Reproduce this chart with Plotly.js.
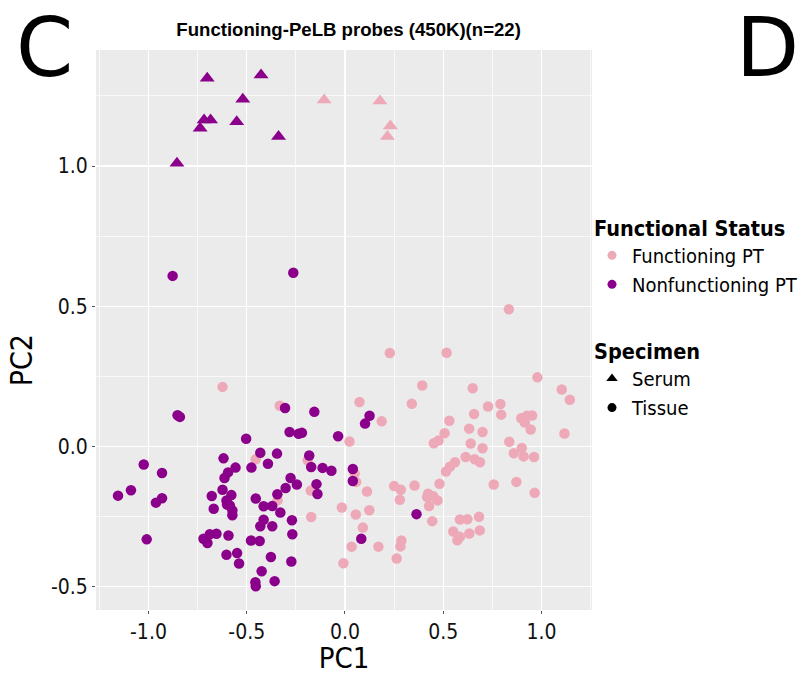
<!DOCTYPE html>
<html>
<head>
<meta charset="utf-8">
<script src="https://cdn.plot.ly/plotly-3.0.1.min.js"></script>
<style>html,body{margin:0;padding:0;background:#fff;}#chart{width:807px;height:675px;}</style>
</head>
<body>
<div id="chart"></div>
<script>
// ---- Data (PC1 / PC2 scores) ----
const nonfuncSerumPC1 = [-0.701, -0.427, -0.520, -0.717, -0.684, -0.737, -0.551, -0.338, -0.855];
const nonfuncSerumPC2 = [1.313, 1.325, 1.238, 1.164, 1.164, 1.135, 1.158, 1.105, 1.010];

const funcSerumPC1 = [-0.106, 0.178, 0.231, 0.216];
const funcSerumPC2 = [1.236, 1.232, 1.143, 1.105];

const nonfuncTissuePC1 = [-0.877, -0.263, -0.852, -0.840, -0.305, -0.156, 0.125, 0.102, -0.035, 0.040, 0.040, 0.364, 0.083,
  -0.503, -0.282, -0.236, -0.219, -1.024, -0.931, -1.155, -1.089, -0.962, -0.931, -1.009, -0.618, -0.557, -0.595, -0.613,
  -0.623, -0.578, -0.603, -0.586, -0.600, -0.573, -0.573, -0.678, -0.668, -0.431, -0.476, -0.392, -0.346, -0.182, -0.172,
  -0.114, -0.069, -0.277, -0.245, -0.302, -0.145, -0.140, -0.344, -0.454, -0.414, -0.370, -0.329, -0.414, -0.431, -0.370,
  -0.270, -0.268, -0.720, -0.688, -0.654, -0.700, -0.593, -0.478, -0.434, -0.603, -0.549, -0.539, -0.377, -0.273, -0.424,
  -0.456, -0.454, -0.358];
const nonfuncTissuePC2 = [0.608, 0.619, 0.111, 0.105, 0.137, 0.123, 0.109, 0.081, 0.036, -0.081, -0.124, -0.242, -0.330,
  0.027, 0.051, 0.045, 0.048, -0.065, -0.095, -0.176, -0.157, -0.201, -0.185, -0.332, -0.043, -0.076, -0.093, -0.113,
  -0.155, -0.174, -0.193, -0.211, -0.208, -0.229, -0.246, -0.177, -0.223, -0.023, -0.076, -0.062, -0.026, -0.033, -0.074,
  -0.077, -0.087, -0.113, -0.136, -0.149, -0.135, -0.170, -0.171, -0.186, -0.214, -0.213, -0.236, -0.262, -0.285, -0.285,
  -0.264, -0.314, -0.330, -0.314, -0.312, -0.345, -0.318, -0.336, -0.338, -0.387, -0.381, -0.418, -0.395, -0.411, -0.446,
  -0.485, -0.499, -0.481];

const funcTissuePC1 = [-0.623, -0.332, 0.834, 0.228, 0.517, 0.979, 0.393, 0.650, 1.103, 1.144, 0.074, 0.340, 0.728, 0.791,
  0.187, 0.657, 0.795, 0.897, 0.926, 0.952, 0.531, 0.915, 0.632, 0.700, 0.507, 1.117, 0.945, 0.023, 0.452, 0.476, 0.640,
  0.700, 0.836, 0.900, 0.859, 0.909, 0.962, 0.614, 0.660, 0.687, 0.560, 0.534, 0.514, 0.049, 0.057, 0.112, 0.250, 0.284,
  0.279, 0.354, 0.481, 0.423, 0.418, 0.449, 0.471, 0.428, 0.757, 0.872, 0.965, -0.016, 0.055, 0.124, 0.444, 0.585, 0.623,
  0.682, 0.551, 0.585, 0.572, 0.633, 0.686, 0.091, 0.034, 0.170, 0.287, 0.282, 0.263, -0.008, -0.454, -0.190, -0.174,
  -0.172, -0.343];
const funcTissuePC2 = [0.212, 0.145, 0.489, 0.333, 0.334, 0.246, 0.217, 0.207, 0.203, 0.166, 0.158, 0.152, 0.142, 0.151,
  0.089, 0.115, 0.113, 0.100, 0.109, 0.110, 0.091, 0.085, 0.063, 0.051, 0.047, 0.046, 0.060, 0.017, 0.011, 0.021, 0.010,
  -0.007, 0.016, -0.006, -0.025, -0.036, -0.038, -0.038, -0.046, -0.057, -0.057, -0.073, -0.090, -0.097, -0.127, -0.161,
  -0.142, -0.155, -0.191, -0.140, -0.134, -0.169, -0.181, -0.178, -0.193, -0.213, -0.136, -0.127, -0.166, -0.218, -0.243,
  -0.228, -0.267, -0.261, -0.260, -0.251, -0.304, -0.323, -0.335, -0.311, -0.300, -0.290, -0.358, -0.358, -0.336, -0.357,
  -0.400, -0.417, -0.046, -0.050, -0.158, -0.252, -0.193];

const statusLabels = ['Functioning PT', 'Nonfunctioning PT'];
const specimenLabels = ['Serum', 'Tissue'];
const xTicks = [-1.0, -0.5, 0.0, 0.5, 1.0];
const yTicks = [-0.5, 0.0, 0.5, 1.0];

// ---- Styles ----
const PINK = '#EEA9B8';
const PURPLE = '#8B008B';
const FONT = '"DejaVu Sans Condensed", "DejaVu Sans", sans-serif';
const CIRCLE_SIZE = 10.5;
const TRI_SIZE = 13;

const traces = [
  {x: funcTissuePC1, y: funcTissuePC2, type: 'scatter', mode: 'markers', showlegend: false,
   marker: {color: PINK, size: CIRCLE_SIZE, symbol: 'circle', line: {width: 0}}},
  {x: funcSerumPC1, y: funcSerumPC2, type: 'scatter', mode: 'markers', showlegend: false,
   marker: {color: PINK, size: TRI_SIZE, symbol: 'triangle-up', line: {width: 0}}},
  {x: nonfuncTissuePC1, y: nonfuncTissuePC2, type: 'scatter', mode: 'markers', showlegend: false,
   marker: {color: PURPLE, size: CIRCLE_SIZE, symbol: 'circle', line: {width: 0}}},
  {x: nonfuncSerumPC1, y: nonfuncSerumPC2, type: 'scatter', mode: 'markers', showlegend: false,
   marker: {color: PURPLE, size: TRI_SIZE, symbol: 'triangle-up', line: {width: 0}}},
  // legend entries
  {x: [null], y: [null], type: 'scatter', mode: 'markers', name: statusLabels[0], legend: 'legend',
   marker: {color: PINK, size: 9, symbol: 'circle'}},
  {x: [null], y: [null], type: 'scatter', mode: 'markers', name: statusLabels[1], legend: 'legend',
   marker: {color: PURPLE, size: 9, symbol: 'circle'}},
  {x: [null], y: [null], type: 'scatter', mode: 'markers', name: specimenLabels[0], legend: 'legend2',
   marker: {color: '#000', size: 10, symbol: 'triangle-up'}},
  {x: [null], y: [null], type: 'scatter', mode: 'markers', name: specimenLabels[1], legend: 'legend2',
   marker: {color: '#000', size: 9, symbol: 'circle'}}
];

const axisCommon = {
  showline: false, zeroline: false,
  gridcolor: '#FFFFFF', gridwidth: 1.2,
  ticks: 'outside', ticklen: 3, tickwidth: 1, tickcolor: '#555',
  tickfont: {family: FONT, size: 21, color: '#111'},
  showgrid: true
};

const layout = {
  width: 807, height: 675,
  paper_bgcolor: '#FFFFFF', plot_bgcolor: '#EBEBEB',
  margin: {l: 96, r: 215, t: 50, b: 65, autoexpand: false},
  title: {text: '<b>Functioning-PeLB probes (450K)(n=22)</b>',
          font: {family: '"Liberation Sans Narrow", "Arial Narrow", "Liberation Sans", sans-serif', size: 18.6, color: '#000'},
          x: 0.432, xanchor: 'center', y: 0.956, yanchor: 'middle'},
  xaxis: Object.assign({}, axisCommon, {
    range: [-1.267, 1.257], tickvals: xTicks, ticktext: xTicks.map(v => v.toFixed(1)),
    minor: {dtick: 0.25, tick0: 0.25, gridcolor: '#FFFFFF', gridwidth: 0.7, showgrid: true, ticks: ''},
    title: {text: 'PC1', font: {family: FONT, size: 29, color: '#000'}, standoff: 6}
  }),
  yaxis: Object.assign({}, axisCommon, {
    range: [-0.584, 1.414], tickvals: yTicks, ticktext: yTicks.map(v => v.toFixed(1)),
    minor: {dtick: 0.25, tick0: 0.25, gridcolor: '#FFFFFF', gridwidth: 0.7, showgrid: true, ticks: ''}
  }),
  legend: {x: 1.0, xanchor: 'left', y: 0.718, yanchor: 'top', bgcolor: 'rgba(0,0,0,0)',
           font: {family: FONT, size: 20, color: '#000'}, tracegroupgap: 0, itemwidth: 30,
           title: {text: '<b>Functional Status</b>', font: {family: FONT, size: 21.5, color: '#000'}}},
  legend2: {x: 1.0, xanchor: 'left', y: 0.498, yanchor: 'top', bgcolor: 'rgba(0,0,0,0)',
            font: {family: FONT, size: 20, color: '#000'}, tracegroupgap: 0, itemwidth: 30,
            title: {text: '<b>Specimen</b>', font: {family: FONT, size: 21.5, color: '#000'}}},
  annotations: [
    // y-axis title (placed as in the reference, slightly below the panel centre)
    {text: 'PC2', xref: 'paper', yref: 'paper', x: -0.151, y: 0.446, xanchor: 'center', yanchor: 'middle',
     textangle: -90, showarrow: false, font: {family: FONT, size: 30, color: '#000'}},
    {text: 'C', xref: 'paper', yref: 'paper', x: -0.165, y: 1.0036, xanchor: 'left', yanchor: 'middle', showarrow: false,
     font: {family: '"DejaVu Sans", sans-serif', size: 82, color: '#000'}},
    {text: 'D', xref: 'paper', yref: 'paper', x: 1.287, y: 1.0036, xanchor: 'left', yanchor: 'middle', showarrow: false,
     font: {family: '"DejaVu Sans", sans-serif', size: 82, color: '#000'}}
  ]
};

Plotly.newPlot('chart', traces, layout, {displayModeBar: false, staticPlot: true});
</script>
</body>
</html>
